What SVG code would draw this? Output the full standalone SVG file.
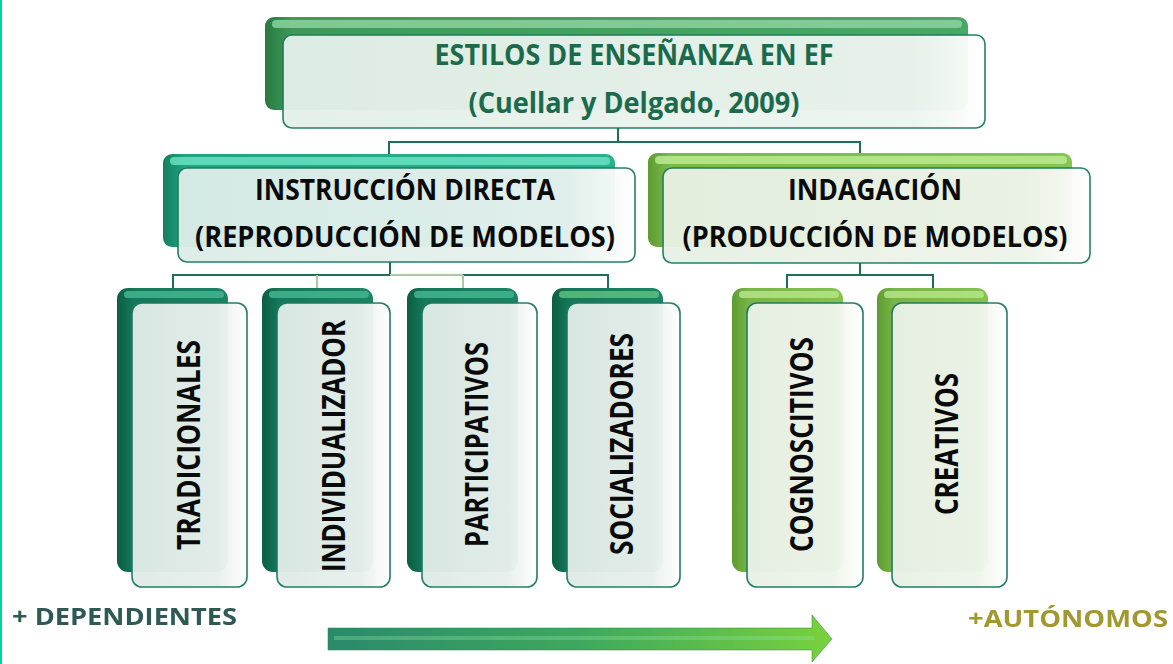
<svg xmlns="http://www.w3.org/2000/svg" width="1173" height="664" viewBox="0 0 1173 664">
<defs>
<style>
.t{font-family:"Open Sans",Lato,"Liberation Sans",sans-serif;font-weight:bold}
.blk{fill:#0a0a0a}
.conn{stroke:#1e6e58;stroke-width:2;fill:none}
.connl{stroke:#a9c9a0;stroke-width:2;fill:none}
.front{stroke:#1f7a62;stroke-width:1.6}
</style>
<linearGradient id="gTitle" x1="0" y1="0" x2="1" y2="0">
<stop offset="0" stop-color="#2a7a42"/><stop offset="0.04" stop-color="#3f9a58"/><stop offset="1" stop-color="#4aa866"/>
</linearGradient>
<linearGradient id="gTeal" x1="0" y1="0" x2="1" y2="0">
<stop offset="0" stop-color="#12805e"/><stop offset="0.05" stop-color="#22a482"/><stop offset="1" stop-color="#2ab08c"/>
</linearGradient>
<linearGradient id="gLime" x1="0" y1="0" x2="1" y2="0">
<stop offset="0" stop-color="#5e9c34"/><stop offset="0.05" stop-color="#7ab848"/><stop offset="1" stop-color="#86c454"/>
</linearGradient>
<linearGradient id="gDark" x1="0" y1="0" x2="1" y2="0">
<stop offset="0" stop-color="#0c5e42"/><stop offset="0.15" stop-color="#14785a"/><stop offset="1" stop-color="#1a8464"/>
</linearGradient>
<linearGradient id="gLimeV" x1="0" y1="0" x2="1" y2="0">
<stop offset="0" stop-color="#5e9c34"/><stop offset="0.15" stop-color="#78b446"/><stop offset="1" stop-color="#84c252"/>
</linearGradient>
<linearGradient id="fTitle" x1="0" y1="0" x2="1" y2="0">
<stop offset="0" stop-color="#e4f0e8"/><stop offset="0.9" stop-color="#eef5f0"/><stop offset="1" stop-color="#ffffff"/>
</linearGradient>
<linearGradient id="fTeal" x1="0" y1="0" x2="1" y2="0">
<stop offset="0" stop-color="#dcede8"/><stop offset="0.85" stop-color="#e8f2ef"/><stop offset="1" stop-color="#ffffff"/>
</linearGradient>
<linearGradient id="fLime" x1="0" y1="0" x2="1" y2="0">
<stop offset="0" stop-color="#e8f1e4"/><stop offset="0.85" stop-color="#eef4ea"/><stop offset="1" stop-color="#ffffff"/>
</linearGradient>
<linearGradient id="fTealV" x1="0" y1="0" x2="1" y2="0">
<stop offset="0" stop-color="#dfebe7"/><stop offset="0.75" stop-color="#e8f0ed"/><stop offset="1" stop-color="#ffffff"/>
</linearGradient>
<linearGradient id="fLimeV" x1="0" y1="0" x2="1" y2="0">
<stop offset="0" stop-color="#e9f1e6"/><stop offset="0.75" stop-color="#eef4eb"/><stop offset="1" stop-color="#ffffff"/>
</linearGradient>
<linearGradient id="gArrow" x1="0" y1="0" x2="1" y2="0">
<stop offset="0" stop-color="#2a8a6c"/><stop offset="0.5" stop-color="#3ea85e"/><stop offset="1" stop-color="#78d23c"/>
</linearGradient>
<filter id="soft" x="-5%" y="-20%" width="110%" height="140%"><feGaussianBlur stdDeviation="0.7"/></filter>
</defs>
<rect width="1173" height="664" fill="#ffffff"/>
<rect x="0" y="0" width="2" height="664" fill="#00d4a0"/>

<g id="connectors">
<path class="conn" d="M618 128V142H389V154"/>
<path class="conn" d="M618 142H860V154"/>
<path class="conn" d="M390 262V275H173V290M463 275H608V290"/>
<path class="connl" d="M390 275H463M317 275V290M463 275V290"/>
<path class="conn" d="M860 263V275H787V290M860 275H933V290"/>
</g>

<g id="title">
<rect x="265" y="17" width="703" height="93" rx="9" fill="url(#gTitle)"/>
<rect x="272" y="20" width="690" height="8" rx="4" fill="#8fd4a4" opacity="0.8"/>
<rect x="283" y="35" width="702" height="93" rx="9" fill="url(#fTitle)" class="front" opacity="0.96"/>
<text class="t" x="634" y="65" font-size="28" text-anchor="middle" fill="#1b6a4c" textLength="399" lengthAdjust="spacingAndGlyphs">ESTILOS DE ENSEÑANZA EN EF</text>
<text class="t" x="634" y="113" font-size="28" text-anchor="middle" fill="#1b6a4c" textLength="331" lengthAdjust="spacingAndGlyphs">(Cuellar y Delgado, 2009)</text>
</g>

<g id="instruccion">
<rect x="163" y="154" width="452" height="93" rx="9" fill="url(#gTeal)"/>
<rect x="170" y="157" width="440" height="8" rx="4" fill="#6ae6c6" opacity="0.8"/>
<rect x="178" y="168" width="457" height="94" rx="9" fill="url(#fTeal)" class="front" opacity="0.96"/>
<text class="t blk" x="405" y="200" font-size="28" text-anchor="middle" textLength="300" lengthAdjust="spacingAndGlyphs">INSTRUCCIÓN DIRECTA</text>
<text class="t blk" x="405" y="247" font-size="28" text-anchor="middle" textLength="420" lengthAdjust="spacingAndGlyphs">(REPRODUCCIÓN DE MODELOS)</text>
</g>

<g id="indagacion">
<rect x="648" y="153" width="424" height="94" rx="9" fill="url(#gLime)"/>
<rect x="655" y="156" width="412" height="8" rx="4" fill="#bcea92" opacity="0.85"/>
<rect x="663" y="168" width="427" height="95" rx="9" fill="url(#fLime)" class="front" opacity="0.96"/>
<text class="t blk" x="875" y="200" font-size="28" text-anchor="middle" textLength="174" lengthAdjust="spacingAndGlyphs">INDAGACIÓN</text>
<text class="t blk" x="875" y="247" font-size="28" text-anchor="middle" textLength="385" lengthAdjust="spacingAndGlyphs">(PRODUCCIÓN DE MODELOS)</text>
</g>

<g id="tradicionales">
<rect x="117" y="288" width="111" height="284" rx="11" fill="url(#gDark)"/>
<rect x="124" y="291" width="100" height="7" rx="3.5" fill="#44b490" opacity="0.85"/>
<rect x="132" y="303" width="115" height="284" rx="10" fill="url(#fTealV)" class="front" opacity="0.97"/>
<text class="t blk" transform="translate(200 445) rotate(-90)" x="0" y="0" font-size="32" text-anchor="middle" textLength="210" lengthAdjust="spacingAndGlyphs">TRADICIONALES</text>
</g>

<g id="individualizador">
<rect x="262" y="288" width="111" height="284" rx="11" fill="url(#gDark)"/>
<rect x="269" y="291" width="100" height="7" rx="3.5" fill="#44b490" opacity="0.85"/>
<rect x="277" y="303" width="113" height="284" rx="10" fill="url(#fTealV)" class="front" opacity="0.97"/>
<text class="t blk" transform="translate(345 446) rotate(-90)" x="0" y="0" font-size="32" text-anchor="middle" textLength="252" lengthAdjust="spacingAndGlyphs">INDIVIDUALIZADOR</text>
</g>

<g id="participativos">
<rect x="407" y="288" width="111" height="284" rx="11" fill="url(#gDark)"/>
<rect x="414" y="291" width="100" height="7" rx="3.5" fill="#44b490" opacity="0.85"/>
<rect x="422" y="303" width="115" height="284" rx="10" fill="url(#fTealV)" class="front" opacity="0.97"/>
<text class="t blk" transform="translate(488 444.5) rotate(-90)" x="0" y="0" font-size="32" text-anchor="middle" textLength="205" lengthAdjust="spacingAndGlyphs">PARTICIPATIVOS</text>
</g>

<g id="socializadores">
<rect x="552" y="288" width="111" height="284" rx="11" fill="url(#gDark)"/>
<rect x="559" y="291" width="100" height="7" rx="3.5" fill="#5cc080" opacity="0.85"/>
<rect x="567" y="303" width="113" height="284" rx="10" fill="url(#fTealV)" class="front" opacity="0.97"/>
<text class="t blk" transform="translate(633 444) rotate(-90)" x="0" y="0" font-size="32" text-anchor="middle" textLength="222" lengthAdjust="spacingAndGlyphs">SOCIALIZADORES</text>
</g>

<g id="cognoscitivos">
<rect x="732" y="288" width="111" height="284" rx="11" fill="url(#gLimeV)"/>
<rect x="739" y="291" width="100" height="7" rx="3.5" fill="#b4e488" opacity="0.85"/>
<rect x="747" y="303" width="116" height="284" rx="10" fill="url(#fLimeV)" class="front" opacity="0.97"/>
<text class="t blk" transform="translate(813 444.5) rotate(-90)" x="0" y="0" font-size="32" text-anchor="middle" textLength="215" lengthAdjust="spacingAndGlyphs">COGNOSCITIVOS</text>
</g>

<g id="creativos">
<rect x="877" y="288" width="111" height="284" rx="11" fill="url(#gLimeV)"/>
<rect x="884" y="291" width="100" height="7" rx="3.5" fill="#b4e488" opacity="0.85"/>
<rect x="892" y="303" width="115" height="284" rx="10" fill="url(#fLimeV)" class="front" opacity="0.97"/>
<text class="t blk" transform="translate(958 444) rotate(-90)" x="0" y="0" font-size="32" text-anchor="middle" textLength="142" lengthAdjust="spacingAndGlyphs">CREATIVOS</text>
</g>

<g id="dependientes">
<text class="t" x="12" y="625" font-size="23" fill="#2d5a52" filter="url(#soft)" textLength="225" lengthAdjust="spacingAndGlyphs">+ DEPENDIENTES</text>
</g>

<g id="arrow">
<path d="M328 628H812V615L832 639L812 662V650H328Z" fill="url(#gArrow)" stroke="#2f7f50" stroke-width="1" stroke-opacity="0.5" filter="url(#soft)"/>
<rect x="334" y="636" width="480" height="4" fill="#8fe0a0" opacity="0.35"/>
</g>

<g id="autonomos">
<text class="t" x="968" y="627" font-size="23" fill="#a09a2e" filter="url(#soft)" textLength="200" lengthAdjust="spacingAndGlyphs">+AUTÓNOMOS</text>
</g>
</svg>
